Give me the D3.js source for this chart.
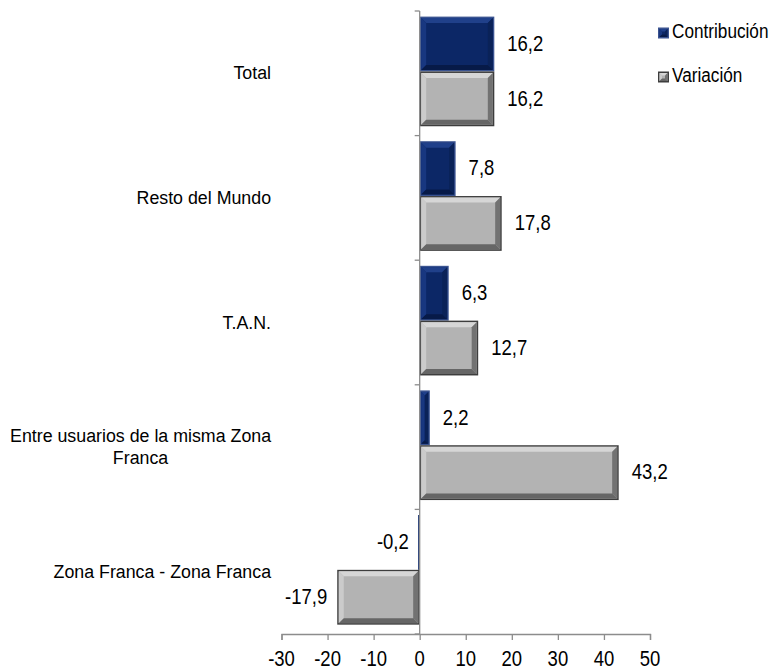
<!DOCTYPE html>
<html>
<head>
<meta charset="utf-8">
<script src="https://cdn.jsdelivr.net/npm/d3@7"></script>
<style>
  html, body { margin: 0; padding: 0; background: #fff; }
  svg { display: block; }
</style>
</head>
<body>
<svg id="chart" width="771" height="671"></svg>
<script>
// ---- data ----
const categories = ["Total", "Resto del Mundo", "T.A.N.", "Entre usuarios de la misma Zona Franca", "Zona Franca - Zona Franca"];
const categoryLines = [["Total"], ["Resto del Mundo"], ["T.A.N."], ["Entre usuarios de la misma Zona", "Franca"], ["Zona Franca - Zona Franca"]];
const seriesNames = ["Contribución", "Variación"];
const contribucion = [16.2, 7.8, 6.3, 2.2, -0.2];
const variacion = [16.2, 17.8, 12.7, 43.2, -17.9];
const tickValues = [-30, -20, -10, 0, 10, 20, 30, 40, 50];

// ---- styles ----
const styles = {
  "Contribución": { center: "#0c2766", top: "#20408a", left: "#183780", right: "#0a2258", bottom: "#071a48", border: "#3a5390" },
  "Variación":    { center: "#b3b3b3", top: "#d6d6d6", left: "#cbcbcb", right: "#727272", bottom: "#666666", border: "#3d3d3d" }
};
const labelFont = "'Liberation Sans', Arial, sans-serif";
const fmt = v => d3.format(".1f")(v).replace(".", ",").replace("\u2212", "-");

const svg = d3.select("#chart");
const x = d3.scaleLinear().domain([-30, 50]).range([281.5, 650]);
const y = d3.scaleBand().domain(categories).range([11, 634]);

const data = categories.map((c, i) => ({ cat: c, lines: categoryLines[i], vals: [contribucion[i], variacion[i]] }));

function stretchedText(parent, tx, ty, str, size, anchor, sy) {
  return parent.append("text")
    .attr("transform", `translate(${tx},${ty}) scale(1,${sy})`)
    .attr("text-anchor", anchor)
    .attr("dominant-baseline", "middle")
    .attr("font-family", labelFont).attr("font-size", size)
    .attr("fill", "#000")
    .text(str);
}

// bars
function bevelBar(g, x0, x1, y0, y1, st, bmax) {
  const w = x1 - x0, h = y1 - y0;
  if (w < 3) {
    g.append("rect").attr("x", x0 - (w < 1.2 ? 0.6 : 0)).attr("y", y0)
      .attr("width", Math.max(w, 1.2)).attr("height", h).attr("fill", st.center);
    return;
  }
  g.append("rect").attr("x", x0).attr("y", y0).attr("width", w).attr("height", h).attr("fill", st.border);
  const ix0 = x0 + 1.5, ix1 = x1 - 1.5, iy0 = y0 + 1.5, iy1 = y1 - 1.5;
  const bb = Math.max(0, Math.min(bmax, (ix1 - ix0) / 2, (iy1 - iy0) / 2));
  g.append("rect").attr("x", ix0).attr("y", iy0).attr("width", ix1 - ix0).attr("height", iy1 - iy0).attr("fill", st.center);
  const poly = (pts, fill) => g.append("polygon").attr("points", pts.map(p => p.join(",")).join(" ")).attr("fill", fill);
  poly([[ix0, iy0], [ix1, iy0], [ix1 - bb, iy0 + bb], [ix0 + bb, iy0 + bb]], st.top);
  poly([[ix0, iy0], [ix0 + bb, iy0 + bb], [ix0 + bb, iy1 - bb], [ix0, iy1]], st.left);
  poly([[ix1, iy0], [ix1, iy1], [ix1 - bb, iy1 - bb], [ix1 - bb, iy0 + bb]], st.right);
  poly([[ix0, iy1], [ix0 + bb, iy1 - bb], [ix1 - bb, iy1 - bb], [ix1, iy1]], st.bottom);
}

const bw = y.bandwidth();
const topOff = bw * 0.045, barH = bw * 0.44;

data.forEach(d => {
  d.vals.forEach((v, si) => {
    const y0 = y(d.cat) + topOff + si * barH;
    const y1 = y0 + barH;
    const xa = Math.min(x(0), x(v)), xb = Math.max(x(0), x(v));
    bevelBar(svg.append("g"), xa, xb, y0, y1, styles[seriesNames[si]], 5);
    const lx = v >= 0 ? x(v) + 13 : x(v) - 10;
    stretchedText(svg, lx, (y0 + y1) / 2 + 1, fmt(v), 18.5, v >= 0 ? "start" : "end", 1.18);
  });
});

// vertical axis at zero
svg.append("line").attr("x1", x(0)).attr("x2", x(0)).attr("y1", 11).attr("y2", 634)
  .attr("stroke", "#8c8c8c").attr("stroke-width", 1.3);
const bounds = categories.map(c => y(c)).concat([y.range()[1]]);
svg.selectAll(".ctick").data(bounds).join("line")
  .attr("x1", x(0) - 5).attr("x2", x(0)).attr("y1", d => d).attr("y2", d => d)
  .attr("stroke", "#8c8c8c").attr("stroke-width", 1.3);

// bottom axis
const xAxis = d3.axisBottom(x).tickValues(tickValues).tickSize(6).tickFormat("");
const ax = svg.append("g").attr("transform", "translate(0,634)").call(xAxis);
ax.select(".domain").attr("stroke", "#8c8c8c").attr("stroke-width", 1.3);
ax.selectAll(".tick line").attr("stroke", "#8c8c8c").attr("stroke-width", 1.3);
tickValues.forEach(t => stretchedText(svg, x(t), 660, String(t), 18.5, "middle", 1.15));

// category labels
data.forEach(d => {
  const cy = y(d.cat) + bw / 2;
  const n = d.lines.length, lh = 22;
  const size = 17.8;
  const tmp = svg.append("text").attr("font-family", labelFont).attr("font-size", size);
  let maxW = 0;
  d.lines.forEach(l => { tmp.text(l); maxW = Math.max(maxW, tmp.node().getComputedTextLength()); });
  tmp.remove();
  const cx = 271 - maxW / 2;
  d.lines.forEach((l, i) => {
    stretchedText(svg, cx, cy + (i - (n - 1) / 2) * lh + 1, l, size, "middle", 1.08);
  });
});

// legend
const leg = svg.append("g");
seriesNames.forEach((s, i) => {
  const ly = 33 + i * 44;
  bevelBar(leg.append("g"), 658, 669, ly - 5.5, ly + 5.5, styles[s], 2.5);
  stretchedText(leg, 672, ly, s, 17.2, "start", 1.15);
});
</script>
</body>
</html>
